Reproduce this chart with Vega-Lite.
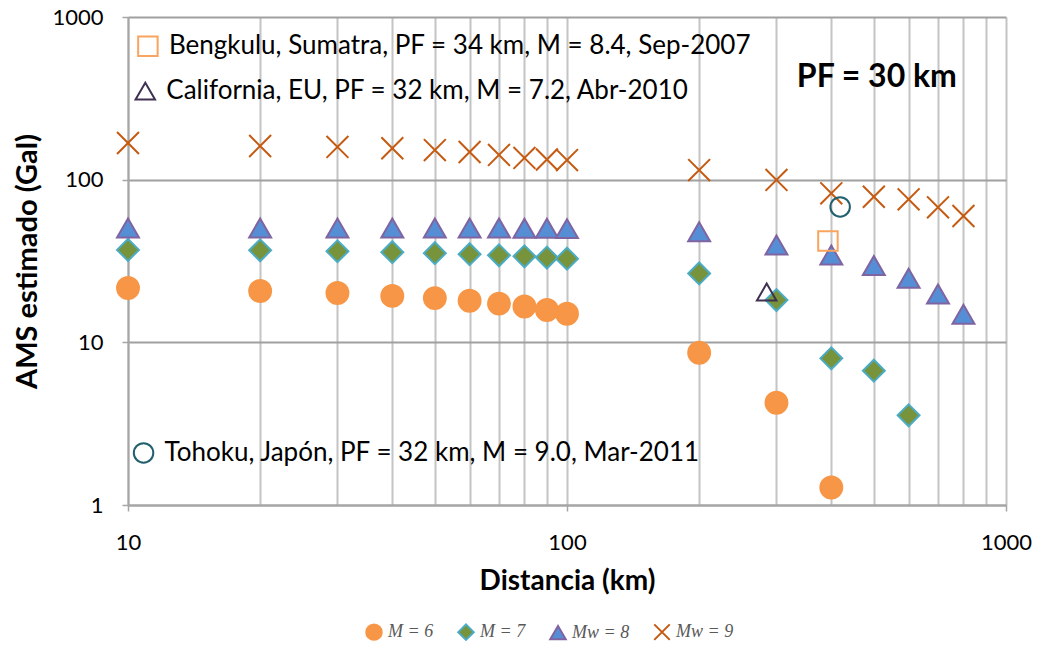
{
  "$schema": "https://vega.github.io/schema/vega-lite/v6.json",
  "width": 878,
  "height": 488,
  "autosize": {"type": "none"},
  "padding": {"left": 128, "top": 17, "right": 33, "bottom": 148},
  "background": "white",
  "config": {
    "font": "Lato",
    "view": {"stroke": null},
    "axis": {"labelFont": "Lato", "titleFont": "Lato", "labelColor": "#000000", "titleColor": "#000000"}
  },
  "datasets": {
    "main": [
      {"d": 10, "ams": 21.6, "serie": "M = 6"},
      {"d": 20, "ams": 20.7, "serie": "M = 6"},
      {"d": 30, "ams": 20.1, "serie": "M = 6"},
      {"d": 40, "ams": 19.3, "serie": "M = 6"},
      {"d": 50, "ams": 18.7, "serie": "M = 6"},
      {"d": 60, "ams": 18.0, "serie": "M = 6"},
      {"d": 70, "ams": 17.3, "serie": "M = 6"},
      {"d": 80, "ams": 16.6, "serie": "M = 6"},
      {"d": 90, "ams": 15.8, "serie": "M = 6"},
      {"d": 100, "ams": 15.0, "serie": "M = 6"},
      {"d": 200, "ams": 8.63, "serie": "M = 6"},
      {"d": 300, "ams": 4.25, "serie": "M = 6"},
      {"d": 400, "ams": 1.28, "serie": "M = 6"},
      {"d": 10, "ams": 37.0, "serie": "M = 7"},
      {"d": 20, "ams": 36.8, "serie": "M = 7"},
      {"d": 30, "ams": 36.3, "serie": "M = 7"},
      {"d": 40, "ams": 35.8, "serie": "M = 7"},
      {"d": 50, "ams": 35.3, "serie": "M = 7"},
      {"d": 60, "ams": 34.8, "serie": "M = 7"},
      {"d": 70, "ams": 34.3, "serie": "M = 7"},
      {"d": 80, "ams": 33.8, "serie": "M = 7"},
      {"d": 90, "ams": 33.2, "serie": "M = 7"},
      {"d": 100, "ams": 32.7, "serie": "M = 7"},
      {"d": 200, "ams": 26.5, "serie": "M = 7"},
      {"d": 300, "ams": 18.2, "serie": "M = 7"},
      {"d": 400, "ams": 7.97, "serie": "M = 7"},
      {"d": 500, "ams": 6.69, "serie": "M = 7"},
      {"d": 600, "ams": 3.56, "serie": "M = 7"},
      {"d": 10, "ams": 50.5, "serie": "Mw = 8"},
      {"d": 20, "ams": 50.5, "serie": "Mw = 8"},
      {"d": 30, "ams": 50.5, "serie": "Mw = 8"},
      {"d": 40, "ams": 50.5, "serie": "Mw = 8"},
      {"d": 50, "ams": 50.5, "serie": "Mw = 8"},
      {"d": 60, "ams": 50.5, "serie": "Mw = 8"},
      {"d": 70, "ams": 50.5, "serie": "Mw = 8"},
      {"d": 80, "ams": 50.3, "serie": "Mw = 8"},
      {"d": 90, "ams": 50.2, "serie": "Mw = 8"},
      {"d": 100, "ams": 50.0, "serie": "Mw = 8"},
      {"d": 200, "ams": 47.8, "serie": "Mw = 8"},
      {"d": 300, "ams": 39.6, "serie": "Mw = 8"},
      {"d": 400, "ams": 34.4, "serie": "Mw = 8"},
      {"d": 500, "ams": 29.7, "serie": "Mw = 8"},
      {"d": 600, "ams": 24.8, "serie": "Mw = 8"},
      {"d": 700, "ams": 19.8, "serie": "Mw = 8"},
      {"d": 800, "ams": 14.9, "serie": "Mw = 8"},
      {"d": 10, "ams": 168, "serie": "Mw = 9"},
      {"d": 20, "ams": 161, "serie": "Mw = 9"},
      {"d": 30, "ams": 159, "serie": "Mw = 9"},
      {"d": 40, "ams": 156, "serie": "Mw = 9"},
      {"d": 50, "ams": 152, "serie": "Mw = 9"},
      {"d": 60, "ams": 148, "serie": "Mw = 9"},
      {"d": 70, "ams": 142, "serie": "Mw = 9"},
      {"d": 80, "ams": 136, "serie": "Mw = 9"},
      {"d": 90, "ams": 133, "serie": "Mw = 9"},
      {"d": 100, "ams": 132, "serie": "Mw = 9"},
      {"d": 200, "ams": 114.5, "serie": "Mw = 9"},
      {"d": 300, "ams": 99.6, "serie": "Mw = 9"},
      {"d": 400, "ams": 82.4, "serie": "Mw = 9"},
      {"d": 500, "ams": 78.5, "serie": "Mw = 9"},
      {"d": 600, "ams": 75.7, "serie": "Mw = 9"},
      {"d": 700, "ams": 67.6, "serie": "Mw = 9"},
      {"d": 800, "ams": 59.8, "serie": "Mw = 9"}
    ],
    "obs": [
      {"site": "Bengkulu", "d": 393, "ams": 42},
      {"site": "California", "d": 285, "ams": 20.4},
      {"site": "Tohoku", "d": 419, "ams": 68}
    ],
    "notes": [
      {"site": "Bengkulu", "d": 11.1, "ams": 662, "label": "Bengkulu, Sumatra, PF = 34 km, M = 8.4, Sep-2007"},
      {"site": "California", "d": 10.95, "ams": 350, "label": "California, EU, PF = 32 km, M = 7.2, Abr-2010"},
      {"site": "Tohoku", "d": 10.85, "ams": 2.09, "label": "Tohoku, Japón, PF = 32 km, M = 9.0, Mar-2011"}
    ],
    "pf": [
      {"d": 508, "ams": 430, "label": "PF = 30 km"}
    ]
  },
  "layer": [
    {
      "data": {"name": "main"},
      "mark": {"type": "point", "filled": true, "opacity": 1, "size": 480, "strokeWidth": 2},
      "encoding": {
        "x": {
          "field": "d", "type": "quantitative",
          "scale": {"type": "log", "domain": [10, 1000], "nice": false},
          "axis": {
            "title": "Distancia (km)",
            "titleFontSize": 28, "titleFontWeight": "bold", "titlePadding": 14,
            "values": [10, 20, 30, 40, 50, 60, 70, 80, 90, 100, 200, 300, 400, 500, 600, 700, 800, 900, 1000],
            "labelExpr": "(datum.value == 10 || datum.value == 100 || datum.value == 1000) ? datum.value : ''",
            "labelFontSize": 22, "labelPadding": 21, "labelFlush": false, "labelOverlap": false,
            "tickSize": 6, "tickColor": "#A6A6A6", "tickWidth": 1.5,
            "tickOpacity": {"condition": {"test": "datum.value == 10 || datum.value == 100 || datum.value == 1000", "value": 1}, "value": 0},
            "grid": true, "gridColor": "#C4C4C4", "gridWidth": 2,
            "domainColor": "#A6A6A6", "domainWidth": 2
          }
        },
        "y": {
          "field": "ams", "type": "quantitative",
          "scale": {"type": "log", "domain": [1, 1000], "nice": false},
          "axis": {
            "title": "AMS estimado (Gal)",
            "titleFontSize": 29, "titleFontWeight": "bold", "titlePadding": 9,
            "values": [1, 10, 100, 1000],
            "format": "d",
            "labelFontSize": 22, "labelPadding": 19,
            "tickSize": 6, "tickColor": "#A6A6A6", "tickWidth": 1.5,
            "grid": true, "gridColor": "#A0A0A0", "gridWidth": 2,
            "domainColor": "#A6A6A6", "domainWidth": 2
          }
        },
        "shape": {
          "field": "serie", "type": "nominal",
          "scale": {"domain": ["M = 6", "M = 7", "Mw = 8", "Mw = 9"], "range": ["circle", "diamond", "triangle-up", "M-1,-1L1,1M-1,1L1,-1"]}
        },
        "fill": {
          "field": "serie", "type": "nominal",
          "scale": {"domain": ["M = 6", "M = 7", "Mw = 8", "Mw = 9"], "range": ["#F79646", "#77933C", "#558ED5", "#C55A11"]}
        },
        "stroke": {
          "field": "serie", "type": "nominal",
          "scale": {"domain": ["M = 6", "M = 7", "Mw = 8", "Mw = 9"], "range": ["#F79646", "#4BACC6", "#8064A2", "#C55A11"]},
          "legend": {
            "title": null, "orient": "none", "direction": "horizontal",
            "legendX": 237, "legendY": 606,
            "symbolSize": 240, "symbolStrokeWidth": 2,
            "labelFont": "Liberation Serif", "labelFontStyle": "italic", "labelFontSize": 18, "labelColor": "#595959",
            "columnPadding": 20, "labelOffset": 5
          }
        }
      }
    },
    {
      "data": {"name": "obs"},
      "mark": {"type": "point", "filled": false, "opacity": 1, "size": 380, "strokeWidth": 2},
      "encoding": {
        "x": {"field": "d", "type": "quantitative"},
        "y": {"field": "ams", "type": "quantitative"},
        "shape": {"field": "site", "type": "nominal", "legend": null,
          "scale": {"domain": ["Bengkulu", "California", "Tohoku"], "range": ["square", "triangle-up", "circle"]}},
        "stroke": {"field": "site", "type": "nominal", "legend": null,
          "scale": {"domain": ["Bengkulu", "California", "Tohoku"], "range": ["#F9A55F", "#403152", "#23606E"]}}
      }
    },
    {
      "data": {"name": "notes"},
      "mark": {"type": "point", "filled": false, "opacity": 1, "size": 380, "strokeWidth": 2},
      "encoding": {
        "x": {"field": "d", "type": "quantitative"},
        "y": {"field": "ams", "type": "quantitative"},
        "shape": {"field": "site", "type": "nominal", "legend": null,
          "scale": {"domain": ["Bengkulu", "California", "Tohoku"], "range": ["square", "triangle-up", "circle"]}},
        "stroke": {"field": "site", "type": "nominal", "legend": null,
          "scale": {"domain": ["Bengkulu", "California", "Tohoku"], "range": ["#F9A55F", "#403152", "#23606E"]}}
      }
    },
    {
      "data": {"name": "notes"},
      "mark": {"type": "text", "align": "left", "baseline": "middle", "dx": 21, "fontSize": 26, "font": "Lato", "color": "#000000"},
      "encoding": {
        "x": {"field": "d", "type": "quantitative"},
        "y": {"field": "ams", "type": "quantitative"},
        "text": {"field": "label"}
      }
    },
    {
      "data": {"name": "pf"},
      "mark": {"type": "text", "align": "center", "baseline": "middle", "fontSize": 32, "fontWeight": "bold", "font": "Lato", "color": "#000000"},
      "encoding": {
        "x": {"field": "d", "type": "quantitative"},
        "y": {"field": "ams", "type": "quantitative"},
        "text": {"field": "label"}
      }
    }
  ],
  "resolve": {"scale": {"shape": "independent", "stroke": "independent", "fill": "independent"}}
}
